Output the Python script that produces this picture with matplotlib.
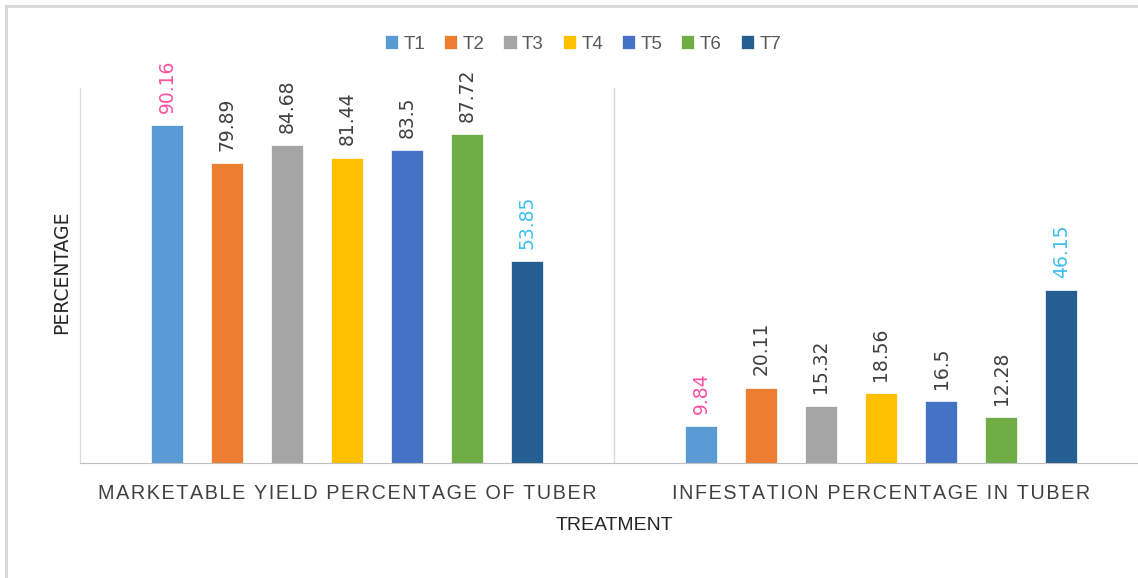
import numpy as np
import matplotlib.pyplot as plt
from matplotlib.patches import Rectangle

# treatment data
treatments = ['T1', 'T2', 'T3', 'T4', 'T5', 'T6', 'T7']
categories = ['MARKETABLE YIELD PERCENTAGE OF TUBER', 'INFESTATION PERCENTAGE IN TUBER']
marketable = [90.16, 79.89, 84.68, 81.44, 83.5, 87.72, 53.85]
infestation = [9.84, 20.11, 15.32, 18.56, 16.5, 12.28, 46.15]

colors = ['#5B9BD5', '#ED7D31', '#A5A5A5', '#FFC000', '#4472C4', '#70AD47', '#255E91']
label_colors = ['#FF4FA0', '#404040', '#404040', '#404040', '#404040', '#404040', '#3DBFF0']

plt.rcParams['font.family'] = ['Liberation Sans', 'DejaVu Sans']

fig = plt.figure(figsize=(11.38, 5.78), dpi=100)
ax = fig.add_axes([80 / 1138, 1 - 463 / 578, 1068 / 1138, 375 / 578])

x = np.arange(len(categories))
step = 0.1124
width = 0.06
values = np.array([marketable, infestation])

for i, t in enumerate(treatments):
    xs = x + (i - 3) * step
    ax.bar(xs, values[:, i], width, color=colors[i], label=t, zorder=2,
           edgecolor='white', linewidth=0.5)
    for xi, v in zip(xs, values[:, i]):
        ax.text(xi, v + 3.3, f'{v:g}', rotation=90, ha='center', va='bottom',
                fontsize=13.5, color=label_colors[i], family='DejaVu Sans')

ax.set_xlim(-0.5, 1.5)
ax.set_ylim(0, 100)
ax.axvline(0.5, color='#D9D9D9', lw=1, zorder=1)
ax.set_yticks([])
ax.set_xticks(x)
# spread the letters of the category names a little
spaced = ['\u200a'.join(c) for c in categories]
ax.set_xticklabels(spaced, fontsize=14.2, color='#404040')
ax.tick_params(axis='x', length=0, pad=15)
for s in ['top', 'right']:
    ax.spines[s].set_visible(False)
ax.spines['left'].set_color('#D9D9D9')
ax.spines['bottom'].set_color('#BFBFBF')

fig.text(62 / 1138, 1 - 272 / 578, 'PERCENTAGE', rotation=90, ha='center', va='center',
         fontsize=13.5, color='#262626', family='DejaVu Sans')
fig.text(614 / 1138, 1 - 525 / 578, 'TREATMENT', ha='center', va='center',
         fontsize=14, color='#262626')

fig.legend(loc='center', bbox_to_anchor=(583 / 1138, 1 - 44 / 578), ncol=7, frameon=False,
           fontsize=13.5, handlelength=0.7, handleheight=0.7, handletextpad=0.3,
           columnspacing=1.0, labelcolor='#595959')

# light outer border
fig.patches.append(Rectangle((6 / 1138, -0.01), 1.1, 1 - 6 / 578 + 0.01, transform=fig.transFigure,
                             fill=False, edgecolor='#D9D9D9', lw=2.2))

fig.savefig('out.png', dpi=100)
